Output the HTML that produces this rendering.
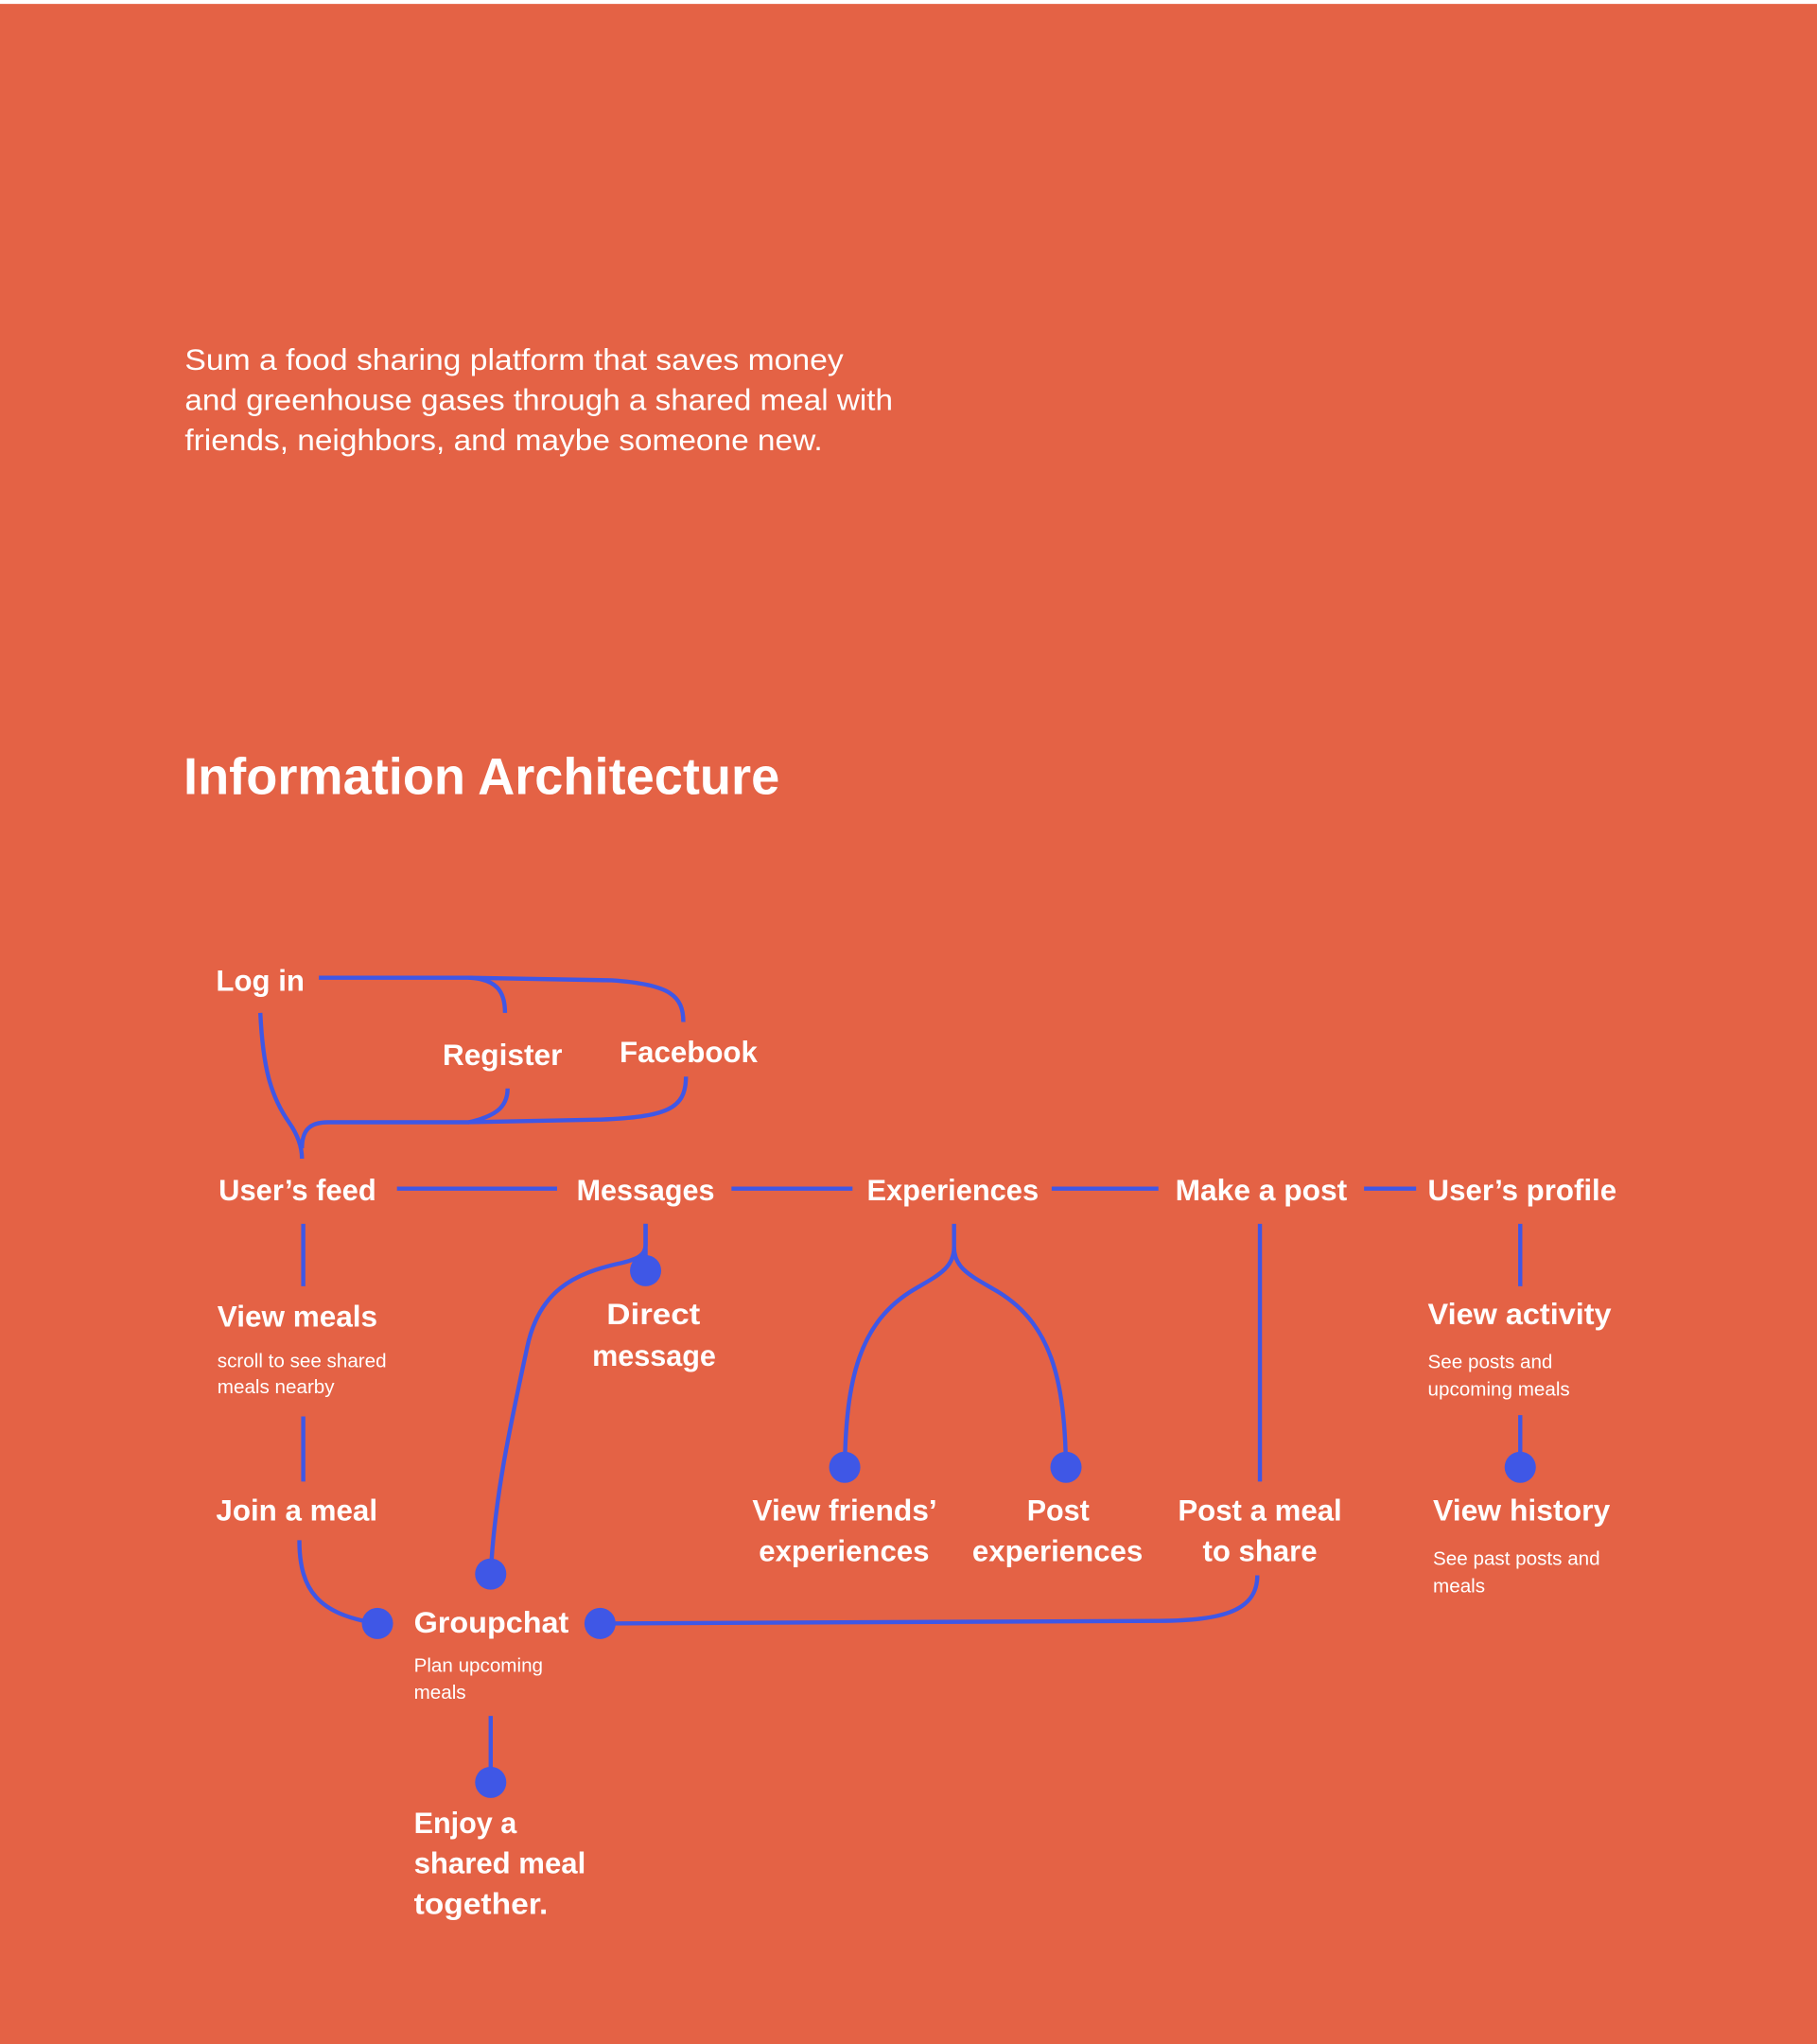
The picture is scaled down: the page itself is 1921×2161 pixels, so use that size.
<!DOCTYPE html>
<html><head><meta charset="utf-8"><style>
html,body{margin:0;padding:0;background:#fff}
svg{display:block}
text{font-family:"Liberation Sans",sans-serif;fill:#fff}
.b{font-weight:bold;font-size:23px}
.s{font-size:15px}
</style></head><body>
<svg width="1921" height="2161" viewBox="0 0 1396 1570" preserveAspectRatio="none" xmlns="http://www.w3.org/2000/svg">
<rect x="0" y="3" width="1396" height="1567" fill="#E46245"/>
<text x="142" y="284" font-size="23" textLength="506" lengthAdjust="spacingAndGlyphs">Sum a food sharing platform that saves money</text>
<text x="142" y="315" font-size="23" textLength="544" lengthAdjust="spacingAndGlyphs">and greenhouse gases through a shared meal with</text>
<text x="142" y="346" font-size="23" textLength="490" lengthAdjust="spacingAndGlyphs">friends, neighbors, and maybe someone new.</text>
<text x="141" y="610" font-size="40" font-weight="bold" textLength="458" lengthAdjust="spacingAndGlyphs">Information Architecture</text>

<g fill="none" stroke="#3F57E6" stroke-width="3.2">
<path d="M245 751 H360 C382 752 388 762 388 778"/>
<path d="M360 751 L470 753 C515 756 525 765 525 785"/>
<path d="M200 778 C202 820 208 842 222 862 C229 872 232 882 232 890"/>
<path d="M232 882 C232 868 238 862 252 862 H360 C378 858 390 852 390 836"/>
<path d="M360 862 L460 860 C512 858 527 852 527 827"/>
<path d="M305 913 H428 M562 913 H655 M808 913 H890 M1048 913 H1088"/>
<path d="M233 940 V988 M233 1088 V1138"/>
<path d="M230 1183 C230 1222 245 1240 290 1247"/>
<path d="M496 940 V976"/>
<path d="M496 940 V956 C496 964 490 967 478 970 C440 978 414 992 405 1035 C392 1095 380 1150 377 1209"/>
<path d="M733 940 V958 C733 974 720 980 703 990 C660 1015 650 1060 649 1127"/>
<path d="M733 958 C733 974 746 980 763 990 C808 1015 818 1060 819 1127"/>
<path d="M968 940 V1138"/>
<path d="M966 1210 C966 1236 942 1245 890 1245 L462 1247"/>
<path d="M1168 940 V988 M1168 1087 V1127"/>
<path d="M377 1318 V1369"/>
</g>
<g fill="#3F57E6">
<circle cx="290" cy="1247" r="12"/><circle cx="461" cy="1247" r="12"/>
<circle cx="496" cy="976" r="12"/><circle cx="377" cy="1209" r="12"/>
<circle cx="649" cy="1127" r="12"/><circle cx="819" cy="1127" r="12"/>
<circle cx="1168" cy="1127" r="12"/><circle cx="377" cy="1369" r="12"/>
</g>

<text class="b" x="166" y="761" textLength="68" lengthAdjust="spacingAndGlyphs">Log in</text>
<text class="b" x="340" y="818" textLength="92" lengthAdjust="spacingAndGlyphs">Register</text>
<text class="b" x="476" y="816" textLength="106" lengthAdjust="spacingAndGlyphs">Facebook</text>
<text class="b" x="168" y="922" textLength="121" lengthAdjust="spacingAndGlyphs">User’s feed</text>
<text class="b" x="443" y="922" textLength="106" lengthAdjust="spacingAndGlyphs">Messages</text>
<text class="b" x="666" y="922" textLength="132" lengthAdjust="spacingAndGlyphs">Experiences</text>
<text class="b" x="903" y="922" textLength="132" lengthAdjust="spacingAndGlyphs">Make a post</text>
<text class="b" x="1097" y="922" textLength="145" lengthAdjust="spacingAndGlyphs">User’s profile</text>

<text class="b" x="167" y="1019" textLength="123" lengthAdjust="spacingAndGlyphs">View meals</text>
<text class="s" x="167" y="1050">scroll to see shared</text>
<text class="s" x="167" y="1070">meals nearby</text>
<text class="b" x="466" y="1017" textLength="72" lengthAdjust="spacingAndGlyphs">Direct</text>
<text class="b" x="455" y="1049" textLength="95" lengthAdjust="spacingAndGlyphs">message</text>
<text class="b" x="1097" y="1017" textLength="141" lengthAdjust="spacingAndGlyphs">View activity</text>
<text class="s" x="1097" y="1051">See posts and</text>
<text class="s" x="1097" y="1072">upcoming meals</text>

<text class="b" x="166" y="1168" textLength="124" lengthAdjust="spacingAndGlyphs">Join a meal</text>
<text class="b" x="578" y="1168" textLength="142" lengthAdjust="spacingAndGlyphs">View friends’</text>
<text class="b" x="583" y="1199" textLength="131" lengthAdjust="spacingAndGlyphs">experiences</text>
<text class="b" x="789" y="1168" textLength="48" lengthAdjust="spacingAndGlyphs">Post</text>
<text class="b" x="747" y="1199" textLength="131" lengthAdjust="spacingAndGlyphs">experiences</text>
<text class="b" x="905" y="1168" textLength="126" lengthAdjust="spacingAndGlyphs">Post a meal</text>
<text class="b" x="924" y="1199" textLength="88" lengthAdjust="spacingAndGlyphs">to share</text>
<text class="b" x="1101" y="1168" textLength="136" lengthAdjust="spacingAndGlyphs">View history</text>
<text class="s" x="1101" y="1202">See past posts and</text>
<text class="s" x="1101" y="1223">meals</text>

<text class="b" x="318" y="1254" textLength="119" lengthAdjust="spacingAndGlyphs">Groupchat</text>
<text class="s" x="318" y="1284">Plan upcoming</text>
<text class="s" x="318" y="1305">meals</text>
<text class="b" x="318" y="1408" textLength="79" lengthAdjust="spacingAndGlyphs">Enjoy a</text>
<text class="b" x="318" y="1439" textLength="132" lengthAdjust="spacingAndGlyphs">shared meal</text>
<text class="b" x="318" y="1470" textLength="103" lengthAdjust="spacingAndGlyphs">together.</text>
</svg>
</body></html>
